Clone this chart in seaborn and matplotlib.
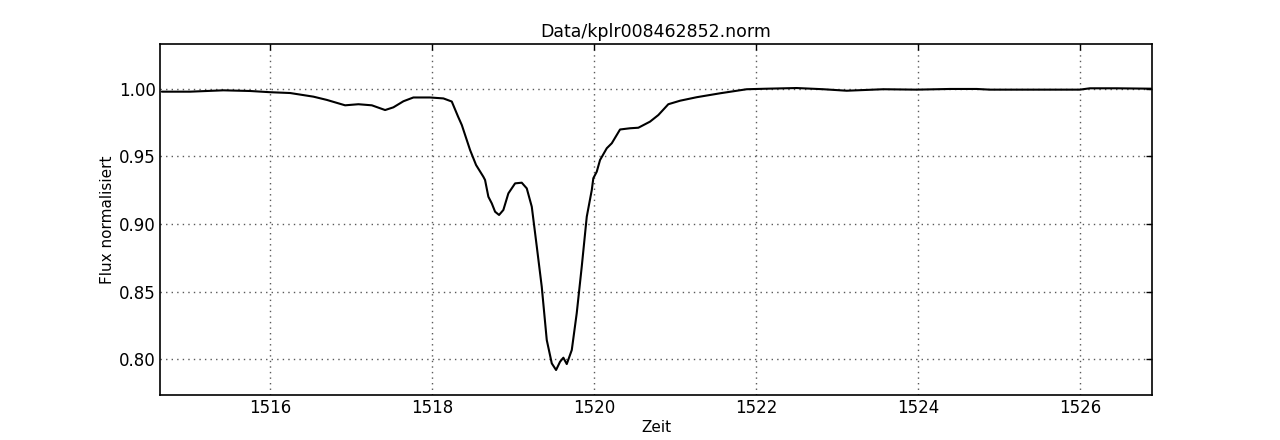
import pandas as pd
import matplotlib
matplotlib.use("Agg")
import matplotlib.pyplot as plt
import seaborn as sns

# Light curve (time in days, normalised flux)
zeit = [1514.663, 1515.012, 1515.423, 1515.753, 1516.000, 1516.247, 1516.535,
        1516.700, 1516.926, 1517.090, 1517.256, 1517.420, 1517.522, 1517.646,
        1517.769, 1517.975, 1518.140, 1518.243, 1518.321, 1518.367, 1518.469,
        1518.543, 1518.633, 1518.654, 1518.695, 1518.737, 1518.778, 1518.827,
        1518.880, 1518.942, 1519.025, 1519.107, 1519.169, 1519.231, 1519.293,
        1519.354, 1519.416, 1519.478, 1519.531, 1519.580, 1519.621, 1519.663,
        1519.725, 1519.786, 1519.848, 1519.910, 1519.972, 1519.991, 1520.033,
        1520.074, 1520.157, 1520.219, 1520.321, 1520.444, 1520.547, 1520.691,
        1520.794, 1520.917, 1521.062, 1521.268, 1521.556, 1521.885, 1522.132,
        1522.502, 1522.831, 1523.120, 1523.572, 1523.984, 1524.395, 1524.725,
        1524.889, 1525.219, 1526.000, 1526.123, 1526.453, 1526.885]
flux = [0.9980, 0.9980, 0.9990, 0.9985, 0.9976, 0.9970, 0.9943,
        0.9919, 0.9879, 0.9887, 0.9879, 0.9844, 0.9864, 0.9909,
        0.9937, 0.9937, 0.9930, 0.9907, 0.9795, 0.9733, 0.9548,
        0.9437, 0.9350, 0.9326, 0.9202, 0.9153, 0.9091, 0.9067,
        0.9104, 0.9227, 0.9301, 0.9306, 0.9264, 0.9128, 0.8832,
        0.8536, 0.8141, 0.7968, 0.7919, 0.7980, 0.8010, 0.7963,
        0.8067, 0.8339, 0.8684, 0.9054, 0.9252, 0.9339, 0.9387,
        0.9474, 0.9561, 0.9598, 0.9700, 0.9709, 0.9713, 0.9758,
        0.9807, 0.9887, 0.9913, 0.9939, 0.9968, 0.9998, 1.0002,
        1.0007, 0.9998, 0.9987, 0.9998, 0.9995, 1.0000, 1.0000,
        0.9995, 0.9995, 0.9995, 1.0005, 1.0005, 1.0002]

x_ticks = [1516, 1518, 1520, 1522, 1524, 1526]
y_ticks = [0.80, 0.85, 0.90, 0.95, 1.00]

sns.set_style("white")
plt.rcParams['font.family'] = ['DejaVu Sans']
plt.rcParams['font.size'] = 12
plt.rcParams['text.color'] = 'black'
plt.rcParams['axes.labelcolor'] = 'black'

df = pd.DataFrame({'Zeit': zeit, 'Flux': flux})

fig = plt.figure(figsize=(12.8, 4.4), dpi=100)
ax = fig.add_axes([0.125, 0.102, 0.775, 0.798])

sns.lineplot(data=df, x='Zeit', y='Flux', estimator=None, sort=False,
             color='black', linewidth=1.5, ax=ax)

ax.set_xlim(1514.64, 1526.89)
ax.set_ylim(0.7733, 1.0333)
ax.set_xticks(x_ticks)
ax.set_yticks(y_ticks)
ax.set_yticklabels([f"{v:.2f}" for v in y_ticks])

ax.grid(True, color='0.35', linestyle=(0, (1, 3)), linewidth=1.0)
ax.tick_params(direction='in', length=4, width=1, top=True, right=True,
               labelsize=12, colors='black', pad=3)
for s in ax.spines.values():
    s.set_color('black')
    s.set_linewidth(1.2)

ax.set_title('Data/kplr008462852.norm', fontsize=12.5, pad=5, color='black')
ax.set_xlabel('Zeit', fontsize=11, labelpad=2)
ax.set_ylabel('Flux normalisiert', fontsize=11, labelpad=3)

fig.savefig('out.png', dpi=100)
plt.close(fig)
